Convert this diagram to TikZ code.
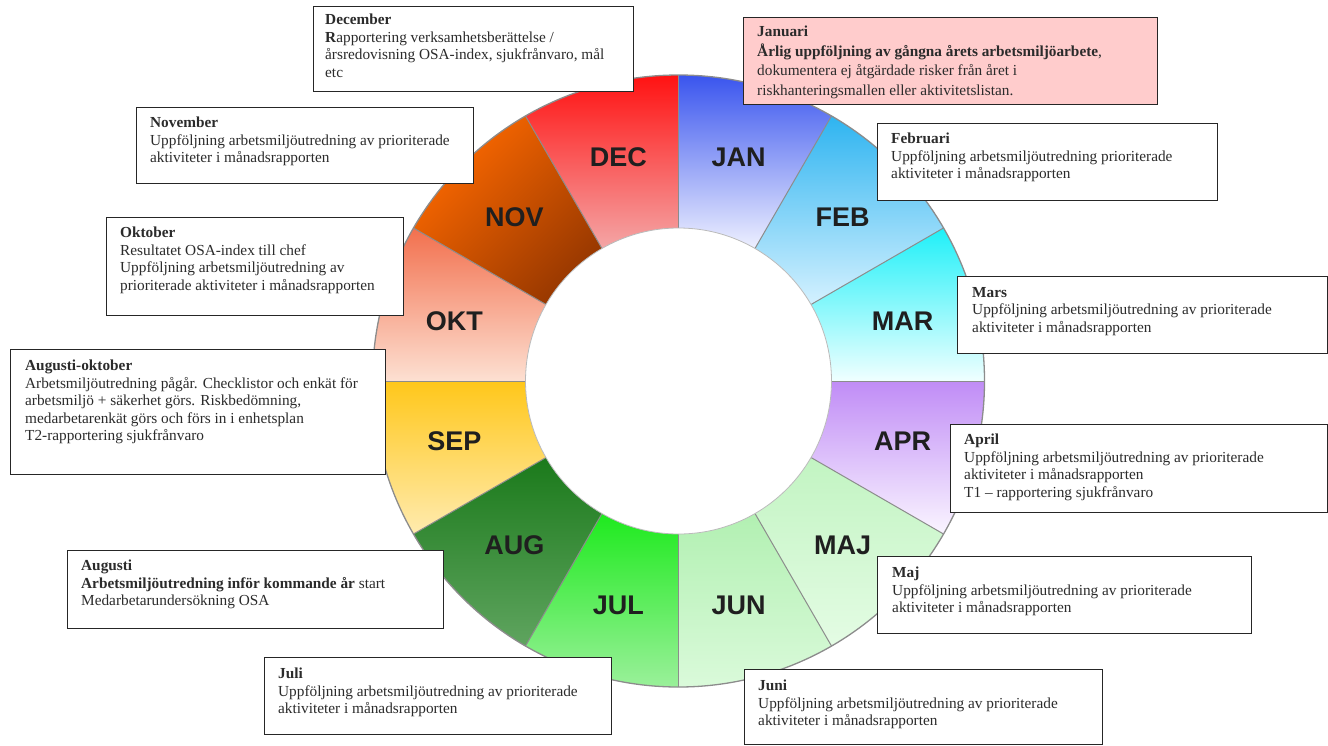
\documentclass[tikz,border=0pt]{standalone}
\usepackage{fontspec}
\setmainfont{Liberation Serif}
\newfontfamily\lblfont{Liberation Sans}
\usetikzlibrary{calc}
\definecolor{boxtext}{HTML}{2B2B2B}
\definecolor{janpink}{HTML}{FFCCCC}
\definecolor{rimgray}{HTML}{8C8C8C}
\definecolor{janT}{HTML}{3A55EE}\definecolor{janB}{HTML}{EEF0FF}
\definecolor{febT}{HTML}{2EB4F0}\definecolor{febB}{HTML}{D4F1FF}
\definecolor{marT}{HTML}{1FF0F8}\definecolor{marB}{HTML}{F0FFFF}
\definecolor{aprT}{HTML}{C08CF6}\definecolor{aprB}{HTML}{FAF5FF}
\definecolor{majT}{HTML}{C2F4C2}\definecolor{majB}{HTML}{E4FCE4}
\definecolor{junT}{HTML}{B2F0B2}\definecolor{junB}{HTML}{DAFADA}
\definecolor{julT}{HTML}{1EEA1E}\definecolor{julB}{HTML}{9AF09A}
\definecolor{augT}{HTML}{1B7A1B}\definecolor{augB}{HTML}{5FA45F}
\definecolor{sepT}{HTML}{FFC71A}\definecolor{sepB}{HTML}{FFEBAF}
\definecolor{oktT}{HTML}{F2704E}\definecolor{oktB}{HTML}{FDE0D2}
\definecolor{novT}{HTML}{FF6A00}\definecolor{novB}{HTML}{983800}
\definecolor{decT}{HTML}{FF1212}\definecolor{decB}{HTML}{F4A6A6}
\tikzset{
  frame/.style={draw=black!85, line width=1.3pt, fill=white, inner sep=0pt, anchor=north west},
  txt/.style={anchor=north west, inner sep=0pt, align=left, text=boxtext, font=\fontsize{15.3}{17.5}\selectfont},
  mlabel/.style={font=\lblfont\bfseries\fontsize{27}{27}\selectfont, text=black!88},
  divider/.style={draw=rimgray, line width=1pt},
}
\newcommand\wedgeseg[5]{%
  \path[top color=#3, bottom color=#4, shading angle=#5, draw=none]
    (#1:306) arc[start angle=#1, end angle=#2, radius=306]
    -- (#2:153) arc[start angle=#2, end angle=#1, radius=153] -- cycle;}
\begin{document}
\begin{tikzpicture}[x=1pt,y=-1pt]
\useasboundingbox (0,0) rectangle (1328,745);
% ---------- wheel ----------
\begin{scope}[shift={(678.5,381)}, y=1pt]
  \wedgeseg{90}{60}{janT}{janB}{0}
  \wedgeseg{60}{30}{febT}{febB}{0}
  \wedgeseg{30}{0}{marT}{marB}{0}
  \wedgeseg{0}{-30}{aprT}{aprB}{0}
  \wedgeseg{-30}{-60}{majT}{majB}{0}
  \wedgeseg{-60}{-90}{junT}{junB}{0}
  \wedgeseg{-90}{-120}{julT}{julB}{0}
  \wedgeseg{-120}{-150}{augT}{augB}{0}
  \wedgeseg{-150}{-180}{sepT}{sepB}{0}
  \wedgeseg{180}{150}{oktT}{oktB}{0}
  \wedgeseg{150}{120}{novT}{novB}{45}
  \wedgeseg{120}{90}{decT}{decB}{0}
  \foreach \a in {0,30,...,330} {\draw[divider] (\a:153) -- (\a:306);}
  \draw[rimgray, line width=1.3pt] (0,0) circle[radius=306];
  \draw[rimgray!60, fill=white, line width=0.8pt] (0,0) circle[radius=153];
  \node[mlabel] (lJAN) at (75:232) {JAN};
  \node[mlabel] (lFEB) at (45:232) {FEB};
  \node[mlabel] (lMAR) at (15:232) {MAR};
  \node[mlabel] (lAPR) at (-15:232) {APR};
  \node[mlabel] (lMAJ) at (-45:232) {MAJ};
  \node[mlabel] (lJUN) at (-75:232) {JUN};
  \node[mlabel] (lJUL) at (-105:232) {JUL};
  \node[mlabel] (lAUG) at (-135:232) {AUG};
  \node[mlabel] (lSEP) at (-165:232) {SEP};
  \node[mlabel] (lOKT) at (165:232) {OKT};
  \node[mlabel] (lNOV) at (135:232) {NOV};
  \node[mlabel] (lDEC) at (105:232) {DEC};
\end{scope}
% ---------- boxes ----------
\node[frame, minimum width=320pt, minimum height=85pt] (bdec) at (313,6) {};
\node[txt] (tdec) at ([xshift=12pt,yshift=-8pt]bdec.north west)
  {\textbf{December}\\\textbf{R}apportering verksamhetsberättelse /\\årsredovisning OSA-index, sjukfrånvaro, mål\\etc};

\node[frame, fill=janpink, minimum width=414pt, minimum height=87pt] (bjan) at (743,17) {};
\node[txt, font=\fontsize{15.3}{19.5}\selectfont] (tjan) at ([xshift=14pt,yshift=-9pt]bjan.north west)
  {\textbf{Januari}\\\textbf{Årlig uppföljning av gångna årets arbetsmiljöarbete},\\dokumentera ej åtgärdade risker från året i\\riskhanteringsmallen eller aktivitetslistan.};

\node[frame, minimum width=337pt, minimum height=76pt] (bnov) at (136,107) {};
\node[txt] (tnov) at ([xshift=14pt,yshift=-10pt]bnov.north west)
  {\textbf{November}\\Uppföljning arbetsmiljöutredning av prioriterade\\aktiviteter i månadsrapporten};

\node[frame, minimum width=340pt, minimum height=77pt] (bfeb) at (877,123) {};
\node[txt] (tfeb) at ([xshift=14pt,yshift=-10pt]bfeb.north west)
  {\textbf{Februari}\\Uppföljning arbetsmiljöutredning prioriterade\\aktiviteter i månadsrapporten};

\node[frame, minimum width=297pt, minimum height=98pt] (bokt) at (106,217) {};
\node[txt] (tokt) at ([xshift=14pt,yshift=-10pt]bokt.north west)
  {\textbf{Oktober}\\Resultatet OSA-index till chef\\Uppföljning arbetsmiljöutredning av\\prioriterade aktiviteter i månadsrapporten};

\node[frame, minimum width=370pt, minimum height=77pt] (bmar) at (957,276) {};
\node[txt] (tmar) at ([xshift=15pt,yshift=-11pt]bmar.north west)
  {\textbf{Mars}\\Uppföljning arbetsmiljöutredning av prioriterade\\aktiviteter i månadsrapporten};

\node[frame, minimum width=375pt, minimum height=125pt] (baugokt) at (10,349) {};
\node[txt] (taugokt) at ([xshift=15pt,yshift=-11pt]baugokt.north west)
  {\textbf{Augusti-oktober}\\Arbetsmiljöutredning pågår. Checklistor och enkät för\\arbetsmiljö + säkerhet görs. Riskbedömning,\\medarbetarenkät görs och förs in i enhetsplan\\T2-rapportering sjukfrånvaro};

\node[frame, minimum width=377pt, minimum height=88pt] (bapr) at (950,424) {};
\node[txt] (tapr) at ([xshift=14pt,yshift=-10pt]bapr.north west)
  {\textbf{April}\\Uppföljning arbetsmiljöutredning av prioriterade\\aktiviteter i månadsrapporten\\T1 – rapportering sjukfrånvaro};

\node[frame, minimum width=376pt, minimum height=78pt] (baug) at (67,550) {};
\node[txt] (taug) at ([xshift=14pt,yshift=-10pt]baug.north west)
  {\textbf{Augusti}\\\textbf{Arbetsmiljöutredning inför kommande år} start\\Medarbetarundersökning OSA};

\node[frame, minimum width=374pt, minimum height=77pt] (bmaj) at (877,556) {};
\node[txt] (tmaj) at ([xshift=15pt,yshift=-11pt]bmaj.north west)
  {\textbf{Maj}\\Uppföljning arbetsmiljöutredning av prioriterade\\aktiviteter i månadsrapporten};

\node[frame, minimum width=347pt, minimum height=77pt] (bjul) at (264,657) {};
\node[txt] (tjul) at ([xshift=14pt,yshift=-11pt]bjul.north west)
  {\textbf{Juli}\\Uppföljning arbetsmiljöutredning av prioriterade\\aktiviteter i månadsrapporten};

\node[frame, minimum width=358pt, minimum height=75pt] (bjun) at (744,669) {};
\node[txt] (tjun) at ([xshift=14pt,yshift=-11pt]bjun.north west)
  {\textbf{Juni}\\Uppföljning arbetsmiljöutredning av prioriterade\\aktiviteter i månadsrapporten};
\end{tikzpicture}
\end{document}
